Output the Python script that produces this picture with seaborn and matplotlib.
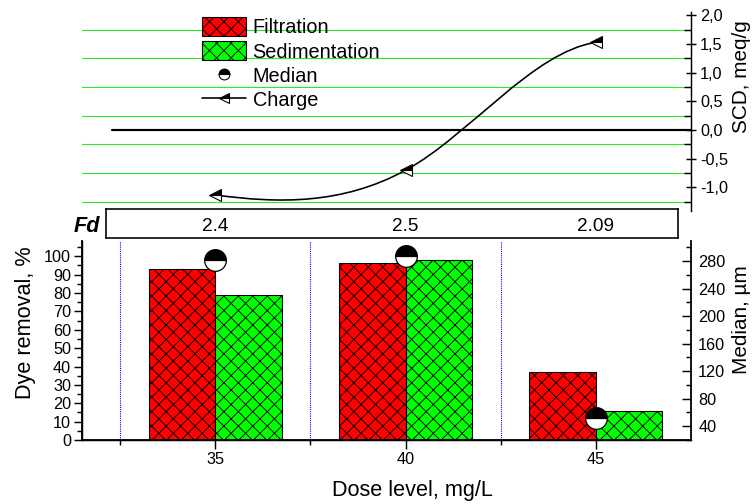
import numpy as np
import pandas as pd
import matplotlib
matplotlib.use("Agg")
import matplotlib.pyplot as plt
import matplotlib.transforms as mtransforms
from matplotlib.path import Path
from matplotlib.patches import PathPatch, Patch
from matplotlib.lines import Line2D
from matplotlib.ticker import MultipleLocator, FuncFormatter
import seaborn as sns

# values
doses = ["35", "40", "45"]
filtration = [93.3, 96.4, 37.0]
sedimentation = [79.1, 98.0, 16.0]
median_um = [281, 287, 52]
charge = [-1.13, -0.70, 1.53]
fd_values = ["2.4", "2.5", "2.09"]

sns.set_style("white")
plt.rcParams["font.family"] = ["Liberation Sans", "DejaVu Sans"]
plt.rcParams["axes.unicode_minus"] = False
plt.rcParams["hatch.linewidth"] = 0.5
plt.rcParams["axes.edgecolor"] = "black"
plt.rcParams["xtick.color"] = "black"
plt.rcParams["ytick.color"] = "black"
plt.rcParams["text.color"] = "black"
plt.rcParams["axes.labelcolor"] = "black"

DPI = 130
W, H = 756, 504
fig = plt.figure(figsize=(W / DPI, H / DPI), dpi=DPI)

ax = fig.add_axes([82 / W, 1 - 440 / H, 609 / W, 199 / H])
ax_top = fig.add_axes([82 / W, 1 - 211 / H, 609 / W, 199 / H])
ax_box = fig.add_axes([105.7 / W, 1 - 237.7 / H, 572 / W, 28.4 / H])

HATCH = "xxx"

# --- bottom panel: dye removal bars ---
df = pd.DataFrame({
    "dose": doses * 2,
    "removal": filtration + sedimentation,
    "method": ["Filtration"] * len(doses) + ["Sedimentation"] * len(doses),
})
colors = {"Filtration": "#ff0000", "Sedimentation": "#00ff00"}
sns.barplot(data=df, x="dose", y="removal", hue="method", palette=colors,
            saturation=1, width=0.7, errorbar=None, edgecolor="black",
            linewidth=0.6, legend=False, ax=ax, zorder=2)
for p in ax.patches:
    p.set_hatch(HATCH)

for xd in [-0.5, 0.5, 1.5]:
    ax.axvline(xd, color="blue", lw=0.6, ls=(0, (1, 1)), zorder=1)

ax.set_xlim(-0.7, 2.5)
ax.set_ylim(0, 108.3)
ax.yaxis.set_major_locator(MultipleLocator(10))
ax.yaxis.set_minor_locator(MultipleLocator(5))
ax.set_xticks([-0.5, 0.5, 1.5], minor=True)
ax.tick_params(axis="y", which="major", direction="out", length=4.5, width=0.8,
               labelsize=9, pad=1.5, left=True)
ax.tick_params(axis="y", which="minor", direction="out", length=2.8, width=0.8, left=True)
ax.tick_params(axis="x", which="major", direction="out", length=5, width=0.8,
               labelsize=9, pad=1.5, bottom=True)
ax.tick_params(axis="x", which="minor", direction="out", length=3, width=0.8, bottom=True)
ax.spines["top"].set_visible(False)
ax.spines["right"].set_visible(False)
for s in ["left", "bottom"]:
    ax.spines[s].set_linewidth(1.0)
ax.set_xlabel("Dose level, mg/L", fontsize=12)
ax.xaxis.set_label_coords(0.542, -0.20)
ax.set_ylabel("Dye removal, %", fontsize=12)
ax.yaxis.set_label_coords(-0.0755, 0.588)

# median on the right axis
ax2 = ax.twinx()
ax2.plot(np.arange(len(doses)), median_um, ls="none", marker="o", ms=12,
         fillstyle="top", mfc="black", markerfacecoloralt="white",
         mec="black", mew=0.7, zorder=5)
ax2.set_ylim(20, 309)
ax2.yaxis.set_major_locator(MultipleLocator(40))
ax2.yaxis.set_minor_locator(MultipleLocator(20))
ax2.tick_params(axis="y", which="major", direction="in", length=5, width=0.8,
                labelsize=9, pad=4, right=True)
ax2.tick_params(axis="y", which="minor", direction="in", length=3, width=0.8, right=True)
ax2.spines["top"].set_visible(False)
ax2.spines["right"].set_linewidth(1.0)
ax2.set_ylabel("Median, µm", fontsize=11.5)
ax2.yaxis.set_label_coords(1.068, 0.603)

# --- top panel: surface charge density ---
xs = np.arange(len(charge), dtype=float)
curve_slopes = [-0.45, 1.8, 0.5]
verts = [(xs[0], charge[0])]
codes = [Path.MOVETO]
for i in range(len(xs) - 1):
    d = (xs[i + 1] - xs[i]) / 3
    verts += [(xs[i] + d, charge[i] + curve_slopes[i] * d),
              (xs[i + 1] - d, charge[i + 1] - curve_slopes[i + 1] * d),
              (xs[i + 1], charge[i + 1])]
    codes += [Path.CURVE4] * 3
ax_top.add_patch(PathPatch(Path(verts, codes), fc="none", ec="black", lw=0.9, zorder=3))
ax_top.plot(xs, charge, ls="none", marker="<", ms=6.5, fillstyle="top",
            mfc="black", markerfacecoloralt="white", mec="black", mew=0.6, zorder=4)

ax_top.set_xlim(-0.7, 2.5)
ax_top.set_ylim(-1.41, 2.06)
ax_top.patch.set_alpha(0)
for s in ["left", "top", "bottom"]:
    ax_top.spines[s].set_visible(False)
ax_top.spines["right"].set_linewidth(0.8)
ax_top.set_xticks([])
ax_top.yaxis.tick_right()
ax_top.yaxis.set_label_position("right")
ax_top.yaxis.set_major_locator(MultipleLocator(0.5))
ax_top.yaxis.set_minor_locator(MultipleLocator(0.25))


def comma_fmt(v, pos):
    if abs(v) < 1e-9:
        v = 0.0
    return f"{v:.1f}".replace(".", ",")


ax_top.yaxis.set_major_formatter(FuncFormatter(comma_fmt))
ax_top.tick_params(axis="y", which="major", direction="inout", length=6, width=0.8,
                   labelsize=9, pad=2, right=True, left=False)
ax_top.tick_params(axis="y", which="minor", direction="in", length=4, width=0.8,
                   right=True, left=False)
ax_top.grid(which="minor", axis="y", color="#22ee22", lw=0.6)
ax_top.grid(which="major", visible=False)
ax_top.axhline(0, xmin=0.049, color="black", lw=1.2, zorder=2)
ax_top.set_ylabel("SCD, meq/g", fontsize=11.5)
ax_top.yaxis.set_label_coords(1.068, 0.673)

handles = [
    Patch(facecolor=colors["Filtration"], edgecolor="black", hatch=HATCH, lw=0.6, label="Filtration"),
    Patch(facecolor=colors["Sedimentation"], edgecolor="black", hatch=HATCH, lw=0.6, label="Sedimentation"),
    Line2D([], [], ls="none", marker="o", ms=6, fillstyle="top", mfc="black",
           markerfacecoloralt="white", mec="black", mew=0.6, label="Median"),
    Line2D([], [], color="black", lw=0.9, marker="<", ms=6, fillstyle="top", mfc="black",
           markerfacecoloralt="white", mec="black", mew=0.6, label="Charge"),
]
ax_top.legend(handles=handles, loc="upper left", bbox_to_anchor=(0.197, 0.975),
              frameon=False, fontsize=11, handlelength=2.2, handleheight=1.1,
              handletextpad=0.35, labelspacing=0.2, borderpad=0, borderaxespad=0)

# --- Fd row ---
ax_box.set_xticks([])
ax_box.set_yticks([])
for s in ax_box.spines.values():
    s.set_linewidth(0.9)
    s.set_visible(True)
trans = mtransforms.blended_transform_factory(ax_top.transData, ax_box.transAxes)
for i, v in enumerate(fd_values):
    ax_box.text(i, 0.40, v, transform=trans, ha="center", va="center", fontsize=10.5)
fig.text(100 / W, 1 - 226 / H, "Fd", ha="right", va="center", fontsize=12,
         fontweight="bold", fontstyle="italic")

fig.savefig("out.png", dpi=DPI)
plt.close(fig)
